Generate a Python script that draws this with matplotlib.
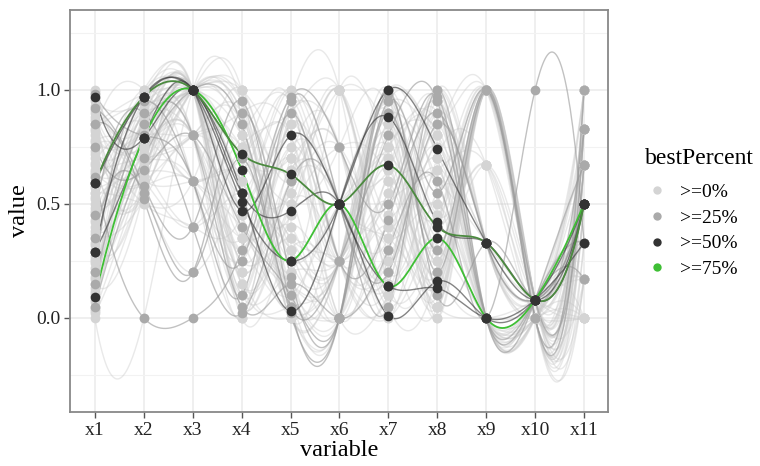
import numpy as np
import matplotlib
matplotlib.use("Agg")
import matplotlib.pyplot as plt
from matplotlib.lines import Line2D

plt.rcParams['font.family'] = ['Liberation Serif', 'DejaVu Serif']

variables = ['x1', 'x2', 'x3', 'x4', 'x5', 'x6', 'x7', 'x8', 'x9', 'x10', 'x11']

# scaled values per run, one list per group of bestPercent
best75 = [
    [0.09, 0.79, 1.0, 0.65, 0.25, 0.5, 0.14, 0.35, 0.00, 0.08, 0.50],
    [0.59, 0.97, 1.0, 0.72, 0.63, 0.5, 0.67, 0.40, 0.33, 0.08, 0.50],
]

best50 = [
    [0.97, 0.79, 1.0, 0.55, 0.47, 0.5, 0.01, 0.16, 0.00, 0.08, 0.50],
    [0.59, 0.97, 1.0, 0.51, 0.25, 0.5, 1.00, 0.74, 0.33, 0.08, 0.50],
    [0.29, 0.79, 1.0, 0.47, 0.80, 0.5, 0.14, 0.13, 0.00, 0.08, 0.33],
    [0.29, 0.97, 1.0, 0.55, 0.03, 0.5, 0.88, 0.42, 0.33, 0.08, 0.50],
]

best25 = [
    [0.92, 0.58, 0.4, 0.95, 0.05, 0.00, 1.00, 0.20, 1.00, 0.00, 0.83],
    [0.85, 0.52, 0.2, 0.90, 0.18, 0.00, 0.95, 0.55, 1.00, 0.08, 0.67],
    [0.62, 0.00, 0.0, 0.30, 0.97, 0.75, 0.50, 0.97, 0.00, 0.08, 0.33],
    [0.20, 0.95, 0.6, 0.25, 0.90, 0.25, 0.43, 0.90, 0.33, 0.08, 0.50],
    [0.15, 0.85, 0.8, 0.05, 0.15, 0.00, 0.30, 0.60, 0.00, 1.00, 0.33],
    [0.05, 0.70, 1.0, 0.85, 0.02, 0.00, 0.98, 0.10, 0.33, 0.08, 0.83],
    [0.45, 0.90, 0.4, 0.02, 0.60, 0.50, 0.05, 1.00, 0.00, 0.08, 0.67],
    [0.75, 0.65, 0.8, 0.40, 0.10, 0.00, 0.90, 0.30, 1.00, 0.00, 1.00],
    [0.35, 0.55, 0.2, 0.70, 0.05, 0.25, 0.80, 0.95, 0.00, 0.08, 0.17],
    [0.98, 0.80, 0.6, 0.10, 0.95, 0.50, 0.20, 0.85, 0.33, 0.08, 0.50],
]

best0 = [
    [0.00, 0.00, 1.0, 0.95, 0.10, 0.25, 0.90, 0.05, 1.00, 0.00, 0.67],
    [0.05, 0.75, 1.0, 0.80, 0.00, 0.25, 0.75, 0.15, 1.00, 0.08, 1.00],
    [0.10, 0.90, 0.8, 0.30, 0.95, 1.00, 0.10, 0.95, 0.00, 0.00, 0.17],
    [0.15, 0.55, 1.0, 0.10, 0.85, 0.25, 0.30, 0.80, 1.00, 0.08, 0.83],
    [0.20, 1.00, 0.6, 0.00, 0.70, 0.75, 0.05, 1.00, 0.33, 0.00, 0.00],
    [0.25, 0.65, 1.0, 0.60, 0.30, 0.25, 0.95, 0.25, 1.00, 0.00, 0.50],
    [0.30, 0.85, 1.0, 0.90, 0.05, 0.00, 0.65, 0.05, 1.00, 0.08, 0.67],
    [0.35, 0.70, 0.8, 0.20, 0.60, 0.50, 0.20, 0.85, 0.00, 0.08, 0.33],
    [0.40, 0.95, 1.0, 0.45, 0.15, 0.25, 1.00, 0.45, 0.67, 0.00, 1.00],
    [0.45, 0.60, 0.4, 0.75, 0.90, 1.00, 0.40, 0.70, 0.00, 0.08, 0.17],
    [0.50, 0.80, 1.0, 0.05, 0.40, 0.25, 0.85, 0.10, 1.00, 0.00, 0.83],
    [0.55, 0.50, 0.6, 1.00, 0.20, 0.00, 0.55, 0.60, 0.33, 0.08, 0.00],
    [0.60, 0.90, 1.0, 0.35, 0.75, 0.50, 0.15, 0.90, 0.00, 0.00, 0.33],
    [0.65, 0.70, 0.8, 0.85, 0.00, 0.25, 0.70, 0.20, 1.00, 0.08, 0.67],
    [0.70, 1.00, 1.0, 0.15, 0.50, 0.75, 0.35, 0.50, 0.00, 0.00, 0.50],
    [0.75, 0.55, 0.2, 0.65, 0.95, 0.25, 0.95, 0.00, 1.00, 0.00, 1.00],
    [0.80, 0.85, 1.0, 0.40, 0.10, 0.00, 0.80, 0.35, 0.67, 0.08, 0.17],
    [0.85, 0.65, 1.0, 0.95, 0.65, 1.00, 0.25, 0.75, 0.00, 0.00, 0.83],
    [0.90, 0.75, 0.8, 0.25, 0.35, 0.25, 0.60, 0.15, 1.00, 0.08, 0.50],
    [0.95, 0.95, 1.0, 0.55, 0.05, 0.50, 0.00, 0.65, 0.00, 0.08, 0.33],
    [1.00, 0.60, 0.6, 0.70, 0.80, 0.25, 0.90, 0.30, 1.00, 0.00, 0.67],
    [0.12, 0.80, 1.0, 1.00, 0.55, 0.00, 0.45, 0.95, 0.33, 0.08, 1.00],
    [0.38, 0.70, 1.0, 0.20, 0.00, 0.25, 1.00, 0.55, 0.00, 0.00, 0.00],
    [0.52, 0.90, 0.8, 0.50, 0.90, 0.75, 0.10, 0.40, 1.00, 0.08, 0.83],
    [0.68, 0.55, 1.0, 0.80, 0.25, 0.50, 0.75, 0.85, 0.00, 0.00, 0.50],
    [0.82, 1.00, 0.6, 0.35, 0.70, 0.25, 0.50, 0.05, 1.00, 0.08, 0.33],
    [0.03, 0.65, 1.0, 0.65, 0.45, 1.00, 0.20, 0.70, 0.67, 0.00, 0.67],
    [0.22, 0.85, 0.8, 0.00, 0.85, 0.25, 0.85, 0.25, 0.00, 0.08, 0.17],
    [0.57, 0.75, 1.0, 0.90, 0.15, 0.00, 0.30, 1.00, 0.33, 0.00, 0.50],
    [0.88, 0.50, 0.4, 0.45, 1.00, 0.50, 0.95, 0.45, 1.00, 0.08, 1.00],
    [0.42, 0.95, 1.0, 0.10, 0.60, 0.75, 0.05, 0.20, 1.00, 0.00, 0.67],
    [0.72, 0.60, 0.8, 0.75, 0.30, 0.00, 0.65, 0.80, 0.00, 0.08, 0.00],
    [0.18, 0.70, 1.0, 0.30, 0.95, 0.25, 0.40, 0.10, 1.00, 0.08, 0.83],
    [0.48, 0.85, 0.6, 0.60, 0.05, 0.50, 0.90, 0.60, 0.00, 0.00, 0.33],
    [0.93, 0.65, 1.0, 0.05, 0.50, 0.25, 0.15, 0.90, 0.33, 0.08, 0.50],
    [0.08, 0.90, 1.0, 0.85, 0.20, 1.00, 0.70, 0.35, 1.00, 0.08, 0.67],
    [0.02, 0.58, 1.0, 0.70, 0.35, 0.25, 0.80, 0.05, 1.00, 0.08, 0.83],
    [0.07, 0.82, 1.0, 0.25, 0.65, 0.50, 0.35, 0.95, 0.00, 0.00, 0.17],
    [0.13, 0.68, 0.8, 0.90, 0.10, 0.00, 0.98, 0.30, 1.00, 0.00, 0.67],
    [0.17, 0.92, 1.0, 0.50, 0.80, 0.25, 0.25, 0.65, 0.00, 0.08, 0.33],
    [0.24, 0.62, 1.0, 0.15, 0.45, 0.75, 0.60, 0.20, 1.00, 0.08, 1.00],
    [0.27, 0.78, 0.6, 0.80, 0.95, 0.25, 0.10, 0.85, 0.33, 0.00, 0.50],
    [0.32, 0.98, 1.0, 0.35, 0.00, 0.00, 0.90, 0.15, 1.00, 0.08, 0.83],
    [0.37, 0.52, 0.8, 0.60, 0.55, 1.00, 0.45, 0.75, 0.00, 0.00, 0.00],
    [0.43, 0.72, 1.0, 0.95, 0.25, 0.25, 0.70, 0.40, 0.67, 0.08, 0.67],
    [0.47, 0.88, 1.0, 0.05, 0.90, 0.50, 0.20, 1.00, 0.00, 0.08, 0.33],
    [0.53, 0.64, 0.6, 0.40, 0.15, 0.25, 1.00, 0.10, 1.00, 0.00, 0.50],
    [0.58, 0.96, 1.0, 0.70, 0.70, 0.75, 0.05, 0.55, 0.33, 0.08, 1.00],
    [0.63, 0.74, 0.8, 0.20, 0.40, 0.00, 0.85, 0.25, 1.00, 0.08, 0.17],
    [0.67, 0.56, 1.0, 0.85, 0.05, 0.25, 0.55, 0.90, 0.00, 0.00, 0.67],
    [0.73, 0.86, 1.0, 0.30, 0.85, 0.50, 0.30, 0.05, 1.00, 0.08, 0.83],
    [0.77, 0.66, 0.4, 0.55, 0.30, 0.25, 0.95, 0.70, 0.00, 0.08, 0.33],
    [0.83, 0.94, 1.0, 1.00, 0.60, 1.00, 0.15, 0.35, 1.00, 0.00, 0.50],
    [0.87, 0.76, 0.8, 0.10, 0.20, 0.25, 0.75, 0.80, 0.33, 0.08, 0.00],
    [0.91, 0.54, 1.0, 0.65, 0.95, 0.00, 0.40, 0.15, 1.00, 0.00, 1.00],
    [0.96, 0.84, 1.0, 0.45, 0.10, 0.50, 0.65, 0.95, 0.00, 0.08, 0.67],
    [0.99, 0.70, 0.6, 0.25, 0.75, 0.25, 0.00, 0.50, 1.00, 0.08, 0.17],
    [0.11, 0.99, 1.0, 0.75, 0.50, 0.75, 0.90, 0.00, 1.00, 0.00, 0.33],
    [0.33, 0.60, 1.0, 0.00, 0.30, 0.25, 0.50, 0.65, 0.67, 0.08, 0.83],
    [0.55, 0.80, 0.8, 0.90, 0.80, 0.00, 0.10, 0.30, 0.00, 0.00, 0.50],
    [0.78, 0.90, 1.0, 0.15, 0.05, 0.25, 1.00, 0.85, 1.00, 0.08, 0.67],
    [0.26, 0.74, 1.0, 0.55, 1.00, 0.50, 0.35, 0.05, 0.00, 0.08, 1.00],
    [0.64, 0.58, 0.6, 0.35, 0.55, 1.00, 0.80, 0.45, 1.00, 0.00, 0.17],
    [0.85, 0.98, 1.0, 0.80, 0.35, 0.25, 0.20, 1.00, 0.33, 0.08, 0.83],
    [0.04, 0.88, 0.8, 0.10, 0.70, 0.00, 0.60, 0.20, 1.00, 0.08, 0.50],
    [0.46, 0.68, 1.0, 1.00, 0.00, 0.50, 0.95, 0.70, 0.00, 0.00, 0.33],
]

group_labels = ['>=0%', '>=25%', '>=50%', '>=75%']
point_colors = ['#d4d4d4', '#aaaaaa', '#333333', '#3fbf35']


def fmm_spline(y, n_out=40):
    # cubic spline through equally spaced knots, end third derivative
    # taken from the cubic through the four end points (like R's spline())
    y = np.asarray(y, dtype=float)
    n = len(y)
    A = np.zeros((n, n))
    r = np.zeros(n)
    for i in range(1, n - 1):
        A[i, i - 1] = 1
        A[i, i] = 4
        A[i, i + 1] = 1
        r[i] = 6 * (y[i + 1] - 2 * y[i] + y[i - 1])
    A[0, 0] = -1
    A[0, 1] = 1
    r[0] = y[3] - 3 * y[2] + 3 * y[1] - y[0]
    A[-1, -2] = -1
    A[-1, -1] = 1
    r[-1] = y[-1] - 3 * y[-2] + 3 * y[-3] - y[-4]
    M = np.linalg.solve(A, r)
    xs, ys = [], []
    for i in range(n - 1):
        t = np.linspace(0, 1, n_out, endpoint=(i == n - 2))
        s = ((1 - t) * y[i] + t * y[i + 1]
             + ((1 - t) ** 3 - (1 - t)) * M[i] / 6
             + (t ** 3 - t) * M[i + 1] / 6)
        xs.append(i + 1 + t)
        ys.append(s)
    return np.concatenate(xs), np.concatenate(ys)


fig = plt.figure(figsize=(7.6, 4.66), dpi=100)
ax = fig.add_axes([0.092, 0.116, 0.708, 0.863])

xpos = np.arange(1, len(variables) + 1)

# lines first, light to dark
for row in best0:
    sx, sy = fmm_spline(row)
    ax.plot(sx, sy, color='#c8c8c8', lw=1.0, alpha=0.4, zorder=2)
for row in best25:
    sx, sy = fmm_spline(row)
    ax.plot(sx, sy, color='#999999', lw=1.0, alpha=0.6, zorder=3)
for row in best50:
    sx, sy = fmm_spline(row)
    ax.plot(sx, sy, color='#333333', lw=1.0, alpha=0.6, zorder=4)
green_lines = ['#3fbf35', '#4b8a3f']
for row, c in zip(best75, green_lines):
    sx, sy = fmm_spline(row)
    ax.plot(sx, sy, color=c, lw=1.3, zorder=5)

# points on top, darkest last
groups = [best0, best25, best50, best75]
point_z = [6, 7, 8, 8]
point_fill = point_colors[:3] + [point_colors[2]]
for g, c, z in zip(groups, point_fill, point_z):
    for row in g:
        ax.plot(xpos, row, 'o', color=c, ms=7, mew=0, zorder=z)

ax.set_xlim(0.49, 11.49)
ax.set_ylim(-0.412, 1.351)
ax.set_xticks(xpos)
ax.set_xticklabels(variables)
ax.set_yticks([0.0, 0.5, 1.0])
ax.set_yticklabels(['0.0', '0.5', '1.0'])
ax.set_yticks([-0.25, 0.25, 0.75, 1.25], minor=True)
ax.grid(True, which='major', color='#ebebeb', lw=1.1, zorder=0)
ax.grid(True, which='minor', axis='y', color='#f2f2f2', lw=0.8, zorder=0)
ax.set_axisbelow(True)
ax.tick_params(axis='both', which='major', labelsize=14, length=4,
               width=1.0, color='#555555', labelcolor='#222222', pad=3)
ax.tick_params(axis='y', which='minor', length=0)
for sp in ax.spines.values():
    sp.set_color('#888888')
    sp.set_linewidth(1.3)

ax.set_xlabel('variable', fontsize=17.5, labelpad=1)
ax.set_ylabel('value', fontsize=17.5, labelpad=4)

handles = [Line2D([], [], ls='', marker='o', ms=6, mew=0, color=c)
           for c in point_colors]
leg = fig.legend(handles, group_labels, title='bestPercent', loc='upper left',
                 bbox_to_anchor=(0.831, 0.711), frameon=False, fontsize=14,
                 title_fontsize=17, labelspacing=0.42, handletextpad=0.6,
                 handlelength=1.2, borderpad=0.2)
leg._legend_box.align = 'left'
leg._legend_box.sep = 10

fig.savefig('out.png', dpi=100)
